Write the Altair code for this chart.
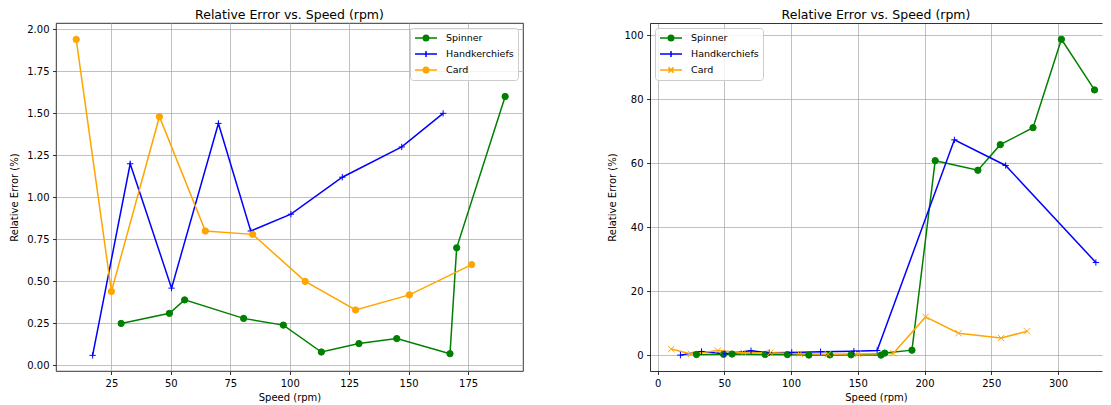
import altair as alt
import pandas as pd

FONT = "DejaVu Sans"
SERIES = ["Spinner", "Handkerchiefs", "Card"]
COLORS = ["#008000", "#0000ff", "#ffa500"]

# low-speed data (left panel, also the start of the right panel)
spinner_speed = [29.1, 49.4, 55.8, 80.6, 97.3, 113.3, 129.1, 145.0, 167.4, 170.2, 190.6]
spinner_err = [0.25, 0.31, 0.39, 0.28, 0.24, 0.08, 0.13, 0.16, 0.07, 0.70, 1.60]
hand_speed = [17.1, 32.9, 50.3, 70.0, 83.6, 100.5, 122.1, 147.1, 164.5]
hand_err = [0.06, 1.20, 0.46, 1.44, 0.80, 0.90, 1.12, 1.30, 1.50]
card_speed = [10.2, 25.0, 45.2, 64.5, 84.4, 106.5, 127.7, 150.3, 176.5]
card_err = [1.94, 0.44, 1.48, 0.80, 0.78, 0.50, 0.33, 0.42, 0.60]

# high-speed data (right panel only)
spinner_speed_hi = [208.0, 240.0, 256.8, 281.3, 302.6, 327.4]
spinner_err_hi = [60.8, 57.8, 65.8, 71.1, 98.7, 82.9]
hand_speed_hi = [222.4, 260.8, 328.4]
hand_err_hi = [67.3, 59.3, 29.0]
card_speed_hi = [200.8, 225.5, 257.4, 276.8]
card_err_hi = [12.0, 6.9, 5.4, 7.5]

left_x_ticks = [25, 50, 75, 100, 125, 150, 175]
left_y_ticks = [0.0, 0.25, 0.5, 0.75, 1.0, 1.25, 1.5, 1.75, 2.0]
right_x_ticks = [0, 50, 100, 150, 200, 250, 300]
right_y_ticks = [0, 20, 40, 60, 80, 100]


def frame(parts):
    rows = []
    for name, xs, ys in parts:
        for a, b in zip(xs, ys):
            rows.append({"series": name, "speed": a, "err": b})
    return pd.DataFrame(rows)


left_df = frame([
    ("Spinner", spinner_speed, spinner_err),
    ("Handkerchiefs", hand_speed, hand_err),
    ("Card", card_speed, card_err),
])
right_df = frame([
    ("Spinner", spinner_speed + spinner_speed_hi, spinner_err + spinner_err_hi),
    ("Handkerchiefs", hand_speed + hand_speed_hi, hand_err + hand_err_hi),
    ("Card", card_speed + card_speed_hi, card_err + card_err_hi),
])

PLUS = "M-1,0H1M0,-1V1"
XMARK = "M-1,-1L1,1M-1,1L1,-1"
LEG_O = "M-1,0H1M-0.25,0A0.25,0.25 0 1,0 0.25,0A0.25,0.25 0 1,0 -0.25,0Z"
LEG_PLUS = "M-1,0H1M0,-0.27V0.27"
LEG_X = "M-1,0H1M-0.24,-0.24L0.24,0.24M-0.24,0.24L0.24,-0.24"

DOMAIN_STYLE = dict(domain=True, domainColor="black", domainWidth=0.8)


def panel(df, xdom, ydom, xticks, yticks, yfmt, width, shapes, leg_shapes, orient, ytpad, open_right):
    xscale = alt.Scale(domain=xdom, nice=False, zero=False)
    yscale = alt.Scale(domain=ydom, nice=False, zero=False)
    extra = DOMAIN_STYLE if open_right else {}
    x_axis = alt.Axis(values=xticks, format="d", title="Speed (rpm)", titlePadding=4.5, **extra)
    y_axis = alt.Axis(values=yticks, format=yfmt, title="Relative Error (%)", titlePadding=ytpad, **extra)
    x = alt.X("speed:Q", scale=xscale, axis=x_axis)
    y = alt.Y("err:Q", scale=yscale, axis=y_axis)
    x_plain = alt.X("speed:Q", scale=xscale, axis=None) if open_right else x
    if open_right:
        x_top = alt.X("speed:Q", scale=xscale,
                      axis=alt.Axis(orient="top", labels=False, ticks=False, grid=False,
                                    title=None, **DOMAIN_STYLE))
    else:
        x_top = x
    cscale = alt.Scale(domain=SERIES, range=COLORS)

    line = alt.Chart(df).mark_line(strokeWidth=1.5).encode(
        x=x, y=y, color=alt.Color("series:N", scale=cscale, legend=None))

    pts = alt.Chart(df).mark_point(filled=True, strokeWidth=1, size=40, opacity=1).encode(
        x=x_plain, y=y,
        color=alt.Color("series:N", scale=cscale, legend=None),
        stroke=alt.Stroke("series:N", scale=cscale, legend=None),
        shape=alt.Shape("series:N", scale=alt.Scale(domain=SERIES, range=shapes), legend=None))

    leg = alt.Legend(title=None, orient=orient, offset=5, padding=4, symbolSize=484,
                     symbolStrokeWidth=1.5, labelFont=FONT, labelFontSize=9.5, labelColor="black",
                     labelOffset=8, rowPadding=4, clipHeight=12,
                     fillColor="rgba(255,255,255,0.8)", strokeColor="#cccccc", cornerRadius=3,
                     symbolOpacity=1)
    legend_layer = alt.Chart(df).transform_filter("false").mark_point(
        filled=True, strokeWidth=1.5, opacity=1).encode(
        x=x_top, y=y,
        color=alt.Color("series:N", scale=cscale, legend=leg),
        stroke=alt.Stroke("series:N", scale=cscale, legend=leg),
        shape=alt.Shape("series:N", scale=alt.Scale(domain=SERIES, range=leg_shapes), legend=leg))

    layered = alt.layer(line, pts, legend_layer).resolve_scale(
        color="independent", stroke="independent", shape="independent")
    if open_right:
        layered = layered.resolve_axis(x="independent")
        layered = layered.properties(view=alt.ViewBackground(stroke="transparent"))
    return layered.properties(
        width=width, height=348,
        title=alt.TitleParams("Relative Error vs. Speed (rpm)", anchor="middle"))


left = panel(left_df, [1.7, 198.1], [-0.033, 2.0375], left_x_ticks, left_y_ticks, ".2f", 467,
             ["circle", PLUS, "circle"], [LEG_O, LEG_PLUS, LEG_O], "top-right", 7, False)
right = panel(right_df, [-5.7, 333.0], [-4.9, 103.8], right_x_ticks, right_y_ticks, "d", 452,
              ["circle", PLUS, XMARK], [LEG_O, LEG_PLUS, LEG_X], "top-left", 6, True)

chart = alt.hconcat(left, right, spacing=83).properties(
    padding={"left": 1, "top": 0, "right": 0, "bottom": 0}
).configure_view(stroke="black", strokeWidth=0.8).configure_axis(
    labelFont=FONT, labelFontSize=10, titleFont=FONT, titleFontSize=10, titleFontWeight="normal",
    labelColor="black", titleColor="black", tickColor="black", tickWidth=0.8, tickSize=3.5,
    labelPadding=3.5, gridColor="#b0b0b0", gridWidth=0.8, domain=False, labelOverlap=False,
    labelFlush=False
).configure_title(font=FONT, fontSize=12.5, fontWeight="normal", color="black", offset=1.8)

chart.save("out.html", embed_options={"renderer": "svg", "actions": False})
